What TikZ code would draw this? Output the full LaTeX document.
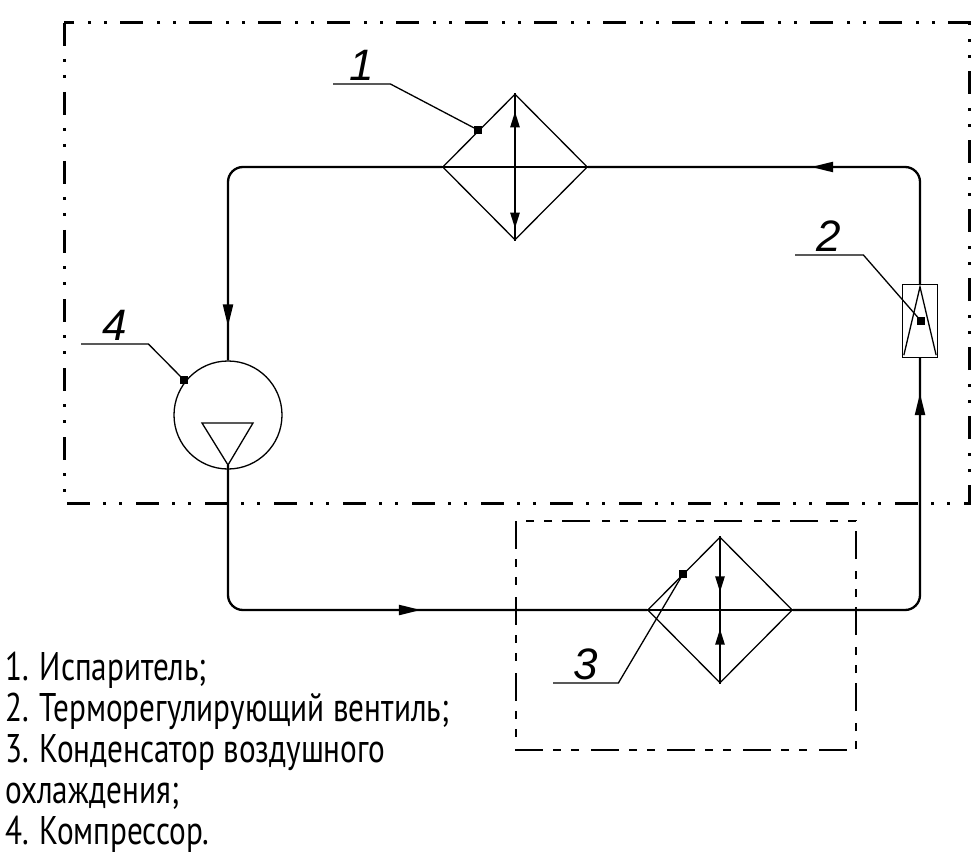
\documentclass[tikz,border=0pt]{standalone}
\usepackage{fontspec}
\setmainfont{PT Sans}
\newfontfamily\legendfont{PT Sans}[FakeStretch=0.78]
\newfontfamily\numfont{Liberation Sans}
\usetikzlibrary{shapes.geometric,arrows.meta,decorations.markings}

\begin{document}
\begin{tikzpicture}[x=1pt,y=-1pt]
	\tikzset{pipe/.style={line width=2.3pt,rounded corners=15pt}}
	\tikzset{thinline/.style={line width=1.3pt}}
	\tikzset{frame/.style={line width=3pt,dash pattern=on 23pt off 13pt on 3pt off 13pt on 3pt off 14pt}}
	\tikzset{subframe/.style={line width=2pt,dash pattern=on 28pt off 10pt on 8pt off 10pt on 8pt off 12pt}}
	\tikzset{exchanger/.style={diamond,draw,line width=1.3pt,minimum width=145pt,minimum height=146pt,inner sep=0pt}}
	\tikzset{num/.style={font=\numfont\itshape\fontsize{44}{44}\selectfont,minimum width=#1,inner xsep=0pt,inner ysep=3pt,anchor=south west}}
	\tikzset{leaddot/.style={rectangle,fill,minimum size=8pt,inner sep=0pt}}
	\tikzset{flowtip/.tip={Triangle[length=22pt,width=10pt]}}
	\tikzset{hxtip/.tip={Triangle[length=16pt,width=9pt]}}
	\tikzset{flow/.style={postaction={decorate},decoration={markings,mark=at position #1 with {\arrow{flowtip}}}}}
	\useasboundingbox (0,0) rectangle (980,861);

	% frames
	\draw[frame] (64,23) rectangle (969,503);
	\draw[subframe] (516,521) rectangle (856,750);

	% units
	\node[exchanger] (evap) at (515,167) {};
	\node[exchanger] (cond) at (720,610) {};
	\node[circle,draw,thinline,minimum size=108pt,inner sep=0pt] (comp) at (228,415) {};
	\node[rectangle,draw,thinline,minimum width=35pt,minimum height=73pt,inner sep=0pt] (valve) at (920,321) {};
	\coordinate (cout) at ([yshift=-50pt]comp.center);
	\draw[thinline] ([xshift=-26pt,yshift=-8pt]comp.center) -- ([xshift=25pt,yshift=-8pt]comp.center) -- (cout) -- cycle;
	\draw[thinline] ([xshift=2pt,yshift=3pt]valve.south west) -- ([yshift=-3pt]valve.north) -- ([xshift=-2pt,yshift=3pt]valve.south east);

	% pipes
	\draw[pipe,flow=-34pt] (evap.west) -| (comp.north);
	\draw[pipe,flow=-226pt] (cout) |- (cond.west);
	\draw[pipe,flow=-35pt] (cond.east) -| (valve.south);
	\draw[pipe,flow=-223pt] (valve.north) |- (evap.east);
	\draw[pipe] (evap.west) -- (evap.east);
	\draw[pipe] (cond.west) -- (cond.east);
	\draw[line width=2.6pt,postaction={decorate},decoration={markings,mark=at position 18pt with {\arrowreversed{hxtip}},mark=at position -12pt with {\arrow{hxtip}}}] (evap.north) -- (evap.south);
	\draw[line width=2.6pt,postaction={decorate},decoration={markings,mark=at position 56pt with {\arrow{hxtip}},mark=at position -55pt with {\arrowreversed{hxtip}}}] (cond.north) -- (cond.south);

	% leaders
	\node[leaddot] (p1) at (478,130) {};
	\node[leaddot] (p2) at (921,321) {};
	\node[leaddot] (p3) at (683,574) {};
	\node[leaddot] (p4) at (184,380) {};
	\node[num=57pt] (n1) at (333,84) {1};
	\node[num=68pt] (n2) at (795,255) {2};
	\node[num=65pt] (n3) at (553,683) {3};
	\node[num=67pt] (n4) at (81,344) {4};
	\draw[thinline] (n1.south west) -- (n1.south east) -- (p1.center);
	\draw[thinline] (n2.south west) -- (n2.south east) -- (p2.center);
	\draw[thinline] (n3.south west) -- (n3.south east) -- (p3.center);
	\draw[thinline] (n4.south west) -- (n4.south east) -- (p4.center);

	% legend
	\node[anchor=north west,align=left,inner sep=0pt,font=\legendfont\fontsize{40}{41}\selectfont] (legend) at (5,652) {1. Испаритель;\\2. Терморегулирующий вентиль;\\3. Конденсатор воздушного\\охлаждения;\\4. Компрессор.};
\end{tikzpicture}
\end{document}
